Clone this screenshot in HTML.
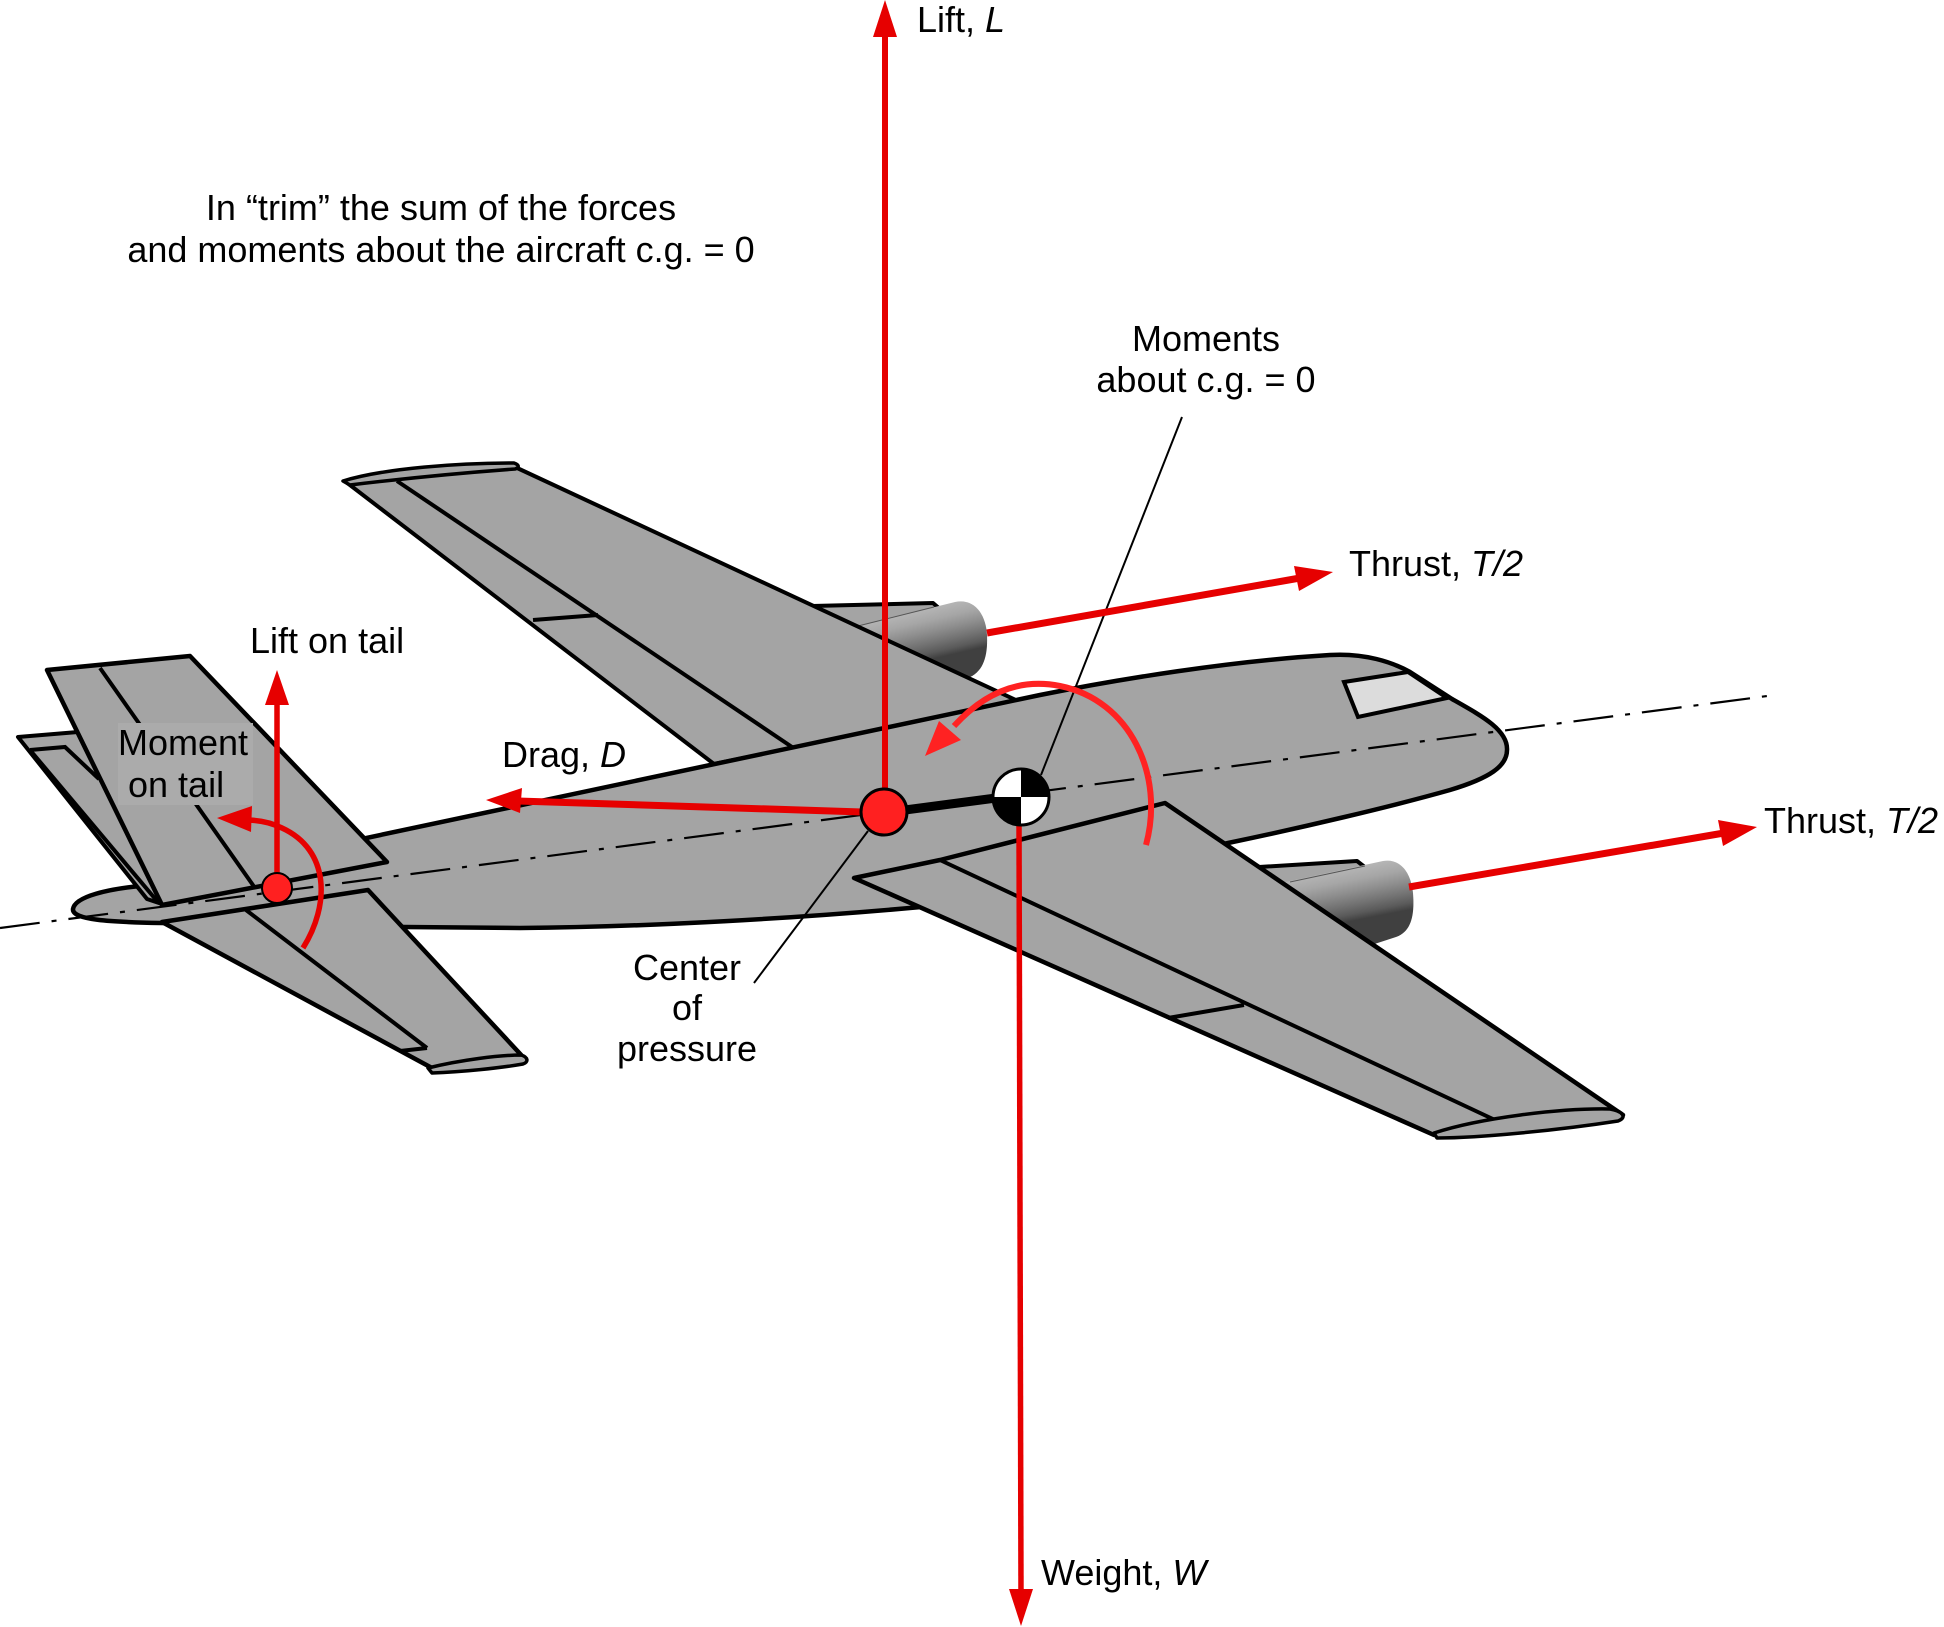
<!DOCTYPE html>
<html>
<head>
<meta charset="utf-8">
<style>
  html, body { margin: 0; padding: 0; background: #ffffff; }
  svg { display: block; }
  text { font-family: "Liberation Sans", Arial, Helvetica, sans-serif; font-size: 36px; fill: #000; }
</style>
</head>
<body>
<svg width="1944" height="1627" viewBox="0 0 1944 1627" xmlns="http://www.w3.org/2000/svg">
  <defs>
    <linearGradient id="engU" gradientUnits="userSpaceOnUse" x1="953" y1="600" x2="971" y2="678">
      <stop offset="0" stop-color="#b8b8b8"/>
      <stop offset="0.18" stop-color="#a6a6a6"/>
      <stop offset="0.32" stop-color="#8e8e8e"/>
      <stop offset="0.46" stop-color="#737373"/>
      <stop offset="0.58" stop-color="#5a5a5a"/>
      <stop offset="0.66" stop-color="#404040"/>
      <stop offset="1" stop-color="#404040"/>
    </linearGradient>
    <linearGradient id="engL" gradientUnits="userSpaceOnUse" x1="1387" y1="858" x2="1403" y2="940">
      <stop offset="0" stop-color="#b8b8b8"/>
      <stop offset="0.18" stop-color="#a6a6a6"/>
      <stop offset="0.32" stop-color="#8e8e8e"/>
      <stop offset="0.46" stop-color="#737373"/>
      <stop offset="0.58" stop-color="#5a5a5a"/>
      <stop offset="0.66" stop-color="#404040"/>
      <stop offset="1" stop-color="#404040"/>
    </linearGradient>
  </defs>

  <rect x="0" y="0" width="1944" height="1627" fill="#ffffff"/>

  <!-- ===== Far (upper) engine & pylon ===== -->
  <polygon points="812,606 933,603 941,610 900,626 858,628" fill="#a4a4a4"/>
  <polyline points="812,606 933,603 941,610" fill="none" stroke="#000" stroke-width="4" stroke-linejoin="round"/>
  <path d="M858,626 L955,602 C975,598 986,615 987,635 C988,657 983,672 968,678 L930,690 L880,680 Z" fill="url(#engU)"/>
  <line x1="858" y1="626" x2="934" y2="607" stroke="#555" stroke-width="1"/>

  <!-- ===== Far wing ===== -->
  <polygon points="346,482 515,467 1020,702 714,764" fill="#a4a4a4" stroke="#000" stroke-width="4" stroke-linejoin="round"/>
  <line x1="397" y1="481" x2="792" y2="747" stroke="#000" stroke-width="4"/>
  <line x1="533" y1="620" x2="598" y2="615" stroke="#000" stroke-width="4"/>
  <path d="M343,481 C385,468 460,463 514,463 C520,465 519,468 515,469 C460,473 400,479 350,485 Z" fill="#a4a4a4" stroke="#000" stroke-width="3.5" stroke-linejoin="round"/>

  <!-- ===== Fuselage ===== -->
  <path d="M73,909 C75,896 110,889 140,886 L1040,695 C1120,679 1230,661 1330,655 C1365,653 1392,662 1410,672 L1452,699 C1482,716 1508,730 1507,750 C1507,766 1490,778 1450,790 C1390,807 1300,828 1228,843 C1100,872 1000,900 921,907 C800,918 650,927 520,928 L404,927 L161,923 C110,922 72,920 73,909 Z"
        fill="#a4a4a4" stroke="#000" stroke-width="4.5" stroke-linejoin="round"/>
  <!-- windshield -->
  <polygon points="1344,682 1408,672 1447,698 1358,717" fill="#dcdcdc" stroke="#000" stroke-width="4" stroke-linejoin="miter"/>

  <!-- ===== Back tail surface (A) ===== -->
  <polygon points="18,737 78,732 165,905 147,899" fill="#a4a4a4" stroke="#000" stroke-width="4" stroke-linejoin="round"/>
  <polyline points="30,750 65,747 99,779" fill="none" stroke="#000" stroke-width="4"/>
  <line x1="30" y1="750" x2="157" y2="901" stroke="#000" stroke-width="4"/>

  <!-- ===== Front tail surface (B) ===== -->
  <polygon points="47,670 190,656 387,862 162,905" fill="#a4a4a4" stroke="#000" stroke-width="4.5" stroke-linejoin="round"/>
  <line x1="100" y1="668" x2="255" y2="888" stroke="#000" stroke-width="4"/>
  <!-- label box -->
  <rect x="118" y="723" width="135" height="82" fill="#ababab"/>

  <!-- ===== Near horizontal stabilizer (C) ===== -->
  <polygon points="162,922 368,890 524,1058 432,1068" fill="#a4a4a4" stroke="#000" stroke-width="4.5" stroke-linejoin="round"/>
  <line x1="246" y1="910" x2="427" y2="1048" stroke="#000" stroke-width="4"/>
  <line x1="400" y1="1051" x2="427" y2="1048" stroke="#000" stroke-width="4"/>
  <path d="M428,1068 C460,1060 500,1055 521,1055 C528,1057 529,1062 523,1064 C500,1068 462,1072 432,1073 Z" fill="#a4a4a4" stroke="#000" stroke-width="3.5" stroke-linejoin="round"/>

  <!-- ===== Near (lower) engine & pylon ===== -->
  <polygon points="1259,867 1357,861 1366,868 1320,886 1270,886" fill="#a4a4a4"/>
  <polyline points="1259,867 1357,861 1366,868" fill="none" stroke="#000" stroke-width="4" stroke-linejoin="round"/>
  <path d="M1262,887 L1383,861 C1400,858 1411,872 1413,893 C1415,918 1410,932 1396,937 L1350,952 L1290,930 Z" fill="url(#engL)"/>
  <line x1="1290" y1="882" x2="1365" y2="866" stroke="#555" stroke-width="1"/>

  <!-- ===== Near wing ===== -->
  <polygon points="854,878 940,860 1165,803 1623,1115 1434,1135" fill="#a4a4a4" stroke="#000" stroke-width="4.5" stroke-linejoin="round"/>
  <line x1="940" y1="860" x2="1495" y2="1120" stroke="#000" stroke-width="4"/>
  <line x1="1168" y1="1018" x2="1244" y2="1005" stroke="#000" stroke-width="4"/>
  <path d="M1434,1133 C1480,1118 1560,1108 1610,1109 C1622,1111 1628,1117 1618,1121 C1560,1130 1480,1138 1437,1138 Z" fill="#a4a4a4" stroke="#000" stroke-width="3.5" stroke-linejoin="round"/>

  <!-- ===== Centerline (dash-dot) ===== -->
  <line x1="0" y1="928" x2="1775" y2="695" stroke="#000" stroke-width="2.2" stroke-dasharray="40 12 5 12"/>

  <!-- ===== Leader lines ===== -->
  <line x1="1182" y1="417" x2="1041" y2="775" stroke="#000" stroke-width="2"/>
  <line x1="868" y1="831" x2="754" y2="983" stroke="#000" stroke-width="2"/>

  <!-- ===== Red force arrows ===== -->
  <!-- Lift -->
  <line x1="885" y1="795" x2="885" y2="34" stroke="#e60000" stroke-width="6"/>
  <polygon points="885,0 873,37 897,37" fill="#e60000"/>
  <!-- Weight -->
  <line x1="1019" y1="822" x2="1021" y2="1592" stroke="#e60000" stroke-width="5.5"/>
  <polygon points="1021,1626 1009,1589 1033,1589" fill="#e60000"/>
  <!-- Drag -->
  <line x1="862" y1="812" x2="518" y2="801" stroke="#e60000" stroke-width="7"/>
  <polygon points="486,800 522,788 520,813" fill="#e60000"/>
  <!-- Thrust upper -->
  <line x1="987" y1="633" x2="1300" y2="578" stroke="#e60000" stroke-width="7"/>
  <polygon points="1333,572 1294,566 1299,591" fill="#e60000"/>
  <!-- Thrust lower -->
  <line x1="1409" y1="887" x2="1724" y2="833" stroke="#e60000" stroke-width="7"/>
  <polygon points="1757,827 1718,820 1723,846" fill="#e60000"/>
  <!-- Lift on tail -->
  <line x1="277" y1="888" x2="277" y2="702" stroke="#e60000" stroke-width="5.5"/>
  <polygon points="277,670 265,705 289,705" fill="#e60000"/>

  <!-- Moment on tail arc -->
  <path d="M303,948 C330,905 330,850 282,828 C270,822 258,820 246,820" fill="none" stroke="#e60000" stroke-width="5.5"/>
  <polygon points="217,818 252,806 251,832" fill="#e60000"/>

  <!-- Moment about c.g. arc -->
  <path d="M1146,845 C1165,775 1130,700 1060,686 C1020,678 985,692 954,726" fill="none" stroke="#ff2222" stroke-width="6"/>
  <polygon points="925,756 939,721 961,740" fill="#ff2222"/>

  <!-- CP to CG bar -->
  <line x1="905" y1="810" x2="996" y2="798" stroke="#000" stroke-width="9"/>

  <!-- Tail point -->
  <circle cx="277" cy="888" r="15" fill="#ff2020" stroke="#000" stroke-width="2"/>
  <!-- Center of pressure -->
  <circle cx="884" cy="812" r="23" fill="#ff2020" stroke="#000" stroke-width="3"/>
  <!-- c.g. symbol -->
  <circle cx="1021" cy="797" r="28" fill="#ffffff"/>
  <path d="M1021,797 L1021,769 A28,28 0 0 1 1049,797 Z" fill="#000"/>
  <path d="M1021,797 L1021,825 A28,28 0 0 1 993,797 Z" fill="#000"/>
  <circle cx="1021" cy="797" r="28" fill="none" stroke="#000" stroke-width="3"/>

  <!-- ===== Labels ===== -->
  <text x="917" y="32">Lift, <tspan font-style="italic">L</tspan></text>
  <text x="441" y="220" text-anchor="middle">In “trim” the sum of the forces</text>
  <text x="441" y="262" text-anchor="middle">and moments about the aircraft c.g. = 0</text>
  <text x="1206" y="351" text-anchor="middle">Moments</text>
  <text x="1206" y="392" text-anchor="middle">about c.g. = 0</text>
  <text x="1349" y="576">Thrust, <tspan font-style="italic">T/2</tspan></text>
  <text x="1764" y="833">Thrust, <tspan font-style="italic">T/2</tspan></text>
  <text x="250" y="653">Lift on tail</text>
  <text x="118" y="755">Moment</text>
  <text x="128" y="797">on tail</text>
  <text x="502" y="767">Drag, <tspan font-style="italic">D</tspan></text>
  <text x="687" y="980" text-anchor="middle">Center</text>
  <text x="687" y="1020" text-anchor="middle">of</text>
  <text x="687" y="1061" text-anchor="middle">pressure</text>
  <text x="1041" y="1585">Weight, <tspan font-style="italic">W</tspan></text>
</svg>
</body>
</html>
